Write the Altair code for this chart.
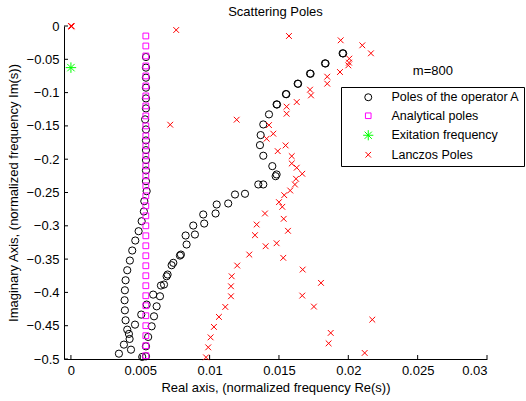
import altair as alt
import pandas as pd

S_CIRCLE = "Poles of the operator A"
S_SQUARE = "Analytical poles"
S_STAR = "Exitation frequency"
S_CROSS = "Lanczos Poles"
series_order = [S_CIRCLE, S_SQUARE, S_STAR, S_CROSS]

circle_re = [
    0.00541, 0.00541, 0.00541, 0.00541, 0.00541, 0.00541, 0.00535, 0.00541, 0.00541, 0.00541, 0.00541, 0.00541, 0.00541, 0.00546,
    0.00529, 0.00526, 0.00510, 0.00488, 0.00464, 0.00442, 0.00425, 0.00406, 0.00394, 0.00389, 0.00387, 0.00389, 0.00394, 0.00406,
    0.00418, 0.00423, 0.00382, 0.00433, 0.00346, 0.00462, 0.00507, 0.00514,
    0.00546, 0.00582, 0.00557, 0.00541, 0.00541, 0.00599, 0.00618, 0.00642, 0.00593, 0.00649, 0.00671,
    0.00690, 0.00697, 0.00726, 0.00738, 0.00786, 0.00793, 0.00834, 0.00827, 0.00894, 0.00882, 0.00961, 0.00954, 0.01043, 0.01051,
    0.01134, 0.01183, 0.01255, 0.01351, 0.01387, 0.01476, 0.01483, 0.01452, 0.01387, 0.01363, 0.01368, 0.01387, 0.01428, 0.01483,
    0.01550, 0.01635, 0.01724, 0.01832, 0.01959,
    0.01963, 0.01836, 0.01728, 0.01638, 0.01553, 0.01486,
]
circle_im = [
    -0.0466, -0.0625, -0.0776, -0.0926, -0.1087, -0.1237, -0.1402, -0.1553, -0.1718, -0.1864, -0.2014, -0.2169, -0.2330, -0.2480,
    -0.2630, -0.2785, -0.2931, -0.3081, -0.3221, -0.3371, -0.3522, -0.3667, -0.3818, -0.3968, -0.4118, -0.4269, -0.4419, -0.4559,
    -0.4623, -0.4699, -0.4784, -0.4860, -0.4920, -0.4484, -0.4333, -0.4969,
    -0.4183, -0.4509, -0.4669, -0.4810, -0.4960, -0.4359, -0.4209, -0.4058, -0.4033, -0.3897, -0.3882,
    -0.3758, -0.3732, -0.3592, -0.3556, -0.3447, -0.3432, -0.3281, -0.3146, -0.3131, -0.2996, -0.2966, -0.2830, -0.2815, -0.2680,
    -0.2665, -0.2530, -0.2519, -0.2379, -0.2379, -0.2255, -0.2229, -0.2104, -0.1948, -0.1789, -0.1638, -0.1478, -0.1327, -0.1177,
    -0.1022, -0.0866, -0.0715, -0.0561, -0.0410,
    -0.0412, -0.0563, -0.0717, -0.0868, -0.1024, -0.1179,
]

square_re = [0.0054] * 33
square_im = [
    -0.015, -0.030, -0.045, -0.060, -0.075, -0.090, -0.105, -0.120, -0.135, -0.150, -0.165,
    -0.180, -0.195, -0.210, -0.225, -0.240, -0.255, -0.270, -0.285, -0.300, -0.315, -0.330,
    -0.345, -0.360, -0.375, -0.390, -0.405, -0.420, -0.435, -0.450, -0.465, -0.480, -0.495,
]

star_re = [0.0]
star_im = [-0.0625]

cross_re = [
    0.0, 0.00003, 0.00006, 0.00759, 0.00716, 0.01195, 0.01572, 0.01945, 0.02101, 0.02163, 0.02007, 0.02005, 0.02000, 0.01940,
    0.01848, 0.01848, 0.01724, 0.01731, 0.01628, 0.01555, 0.01555, 0.01428, 0.01459, 0.01411, 0.01548, 0.01491,
    0.01592, 0.01592, 0.01628, 0.01668, 0.01623, 0.01615, 0.01581, 0.01538, 0.01500, 0.01524, 0.01399, 0.01339,
    0.01534, 0.01565, 0.01327, 0.01404, 0.01483, 0.01286, 0.01531, 0.01199, 0.01159, 0.01154, 0.01154, 0.01671,
    0.01803, 0.01668, 0.01752, 0.02173, 0.01873, 0.01858, 0.02118, 0.01113, 0.01067, 0.01031, 0.01007, 0.00990, 0.00974,
]
cross_im = [
    0.0, -0.0008, -0.0004, -0.0060, -0.1482, -0.1407, -0.0150, -0.0215, -0.0290, -0.0410, -0.0490, -0.0550, -0.0591, -0.0691,
    -0.0761, -0.0866, -0.0956, -0.1042, -0.1142, -0.1211, -0.1317, -0.1488, -0.1617, -0.1692, -0.1793, -0.1879,
    -0.1954, -0.2064, -0.2128, -0.2219, -0.2294, -0.2380, -0.2470, -0.2540, -0.2645, -0.2715, -0.2815, -0.2981,
    -0.2895, -0.3075, -0.3141, -0.3307, -0.3262, -0.3432, -0.3481, -0.3597, -0.3758, -0.3908, -0.4058, -0.3657,
    -0.3857, -0.4048, -0.4213, -0.4409, -0.4608, -0.4765, -0.4909, -0.4218, -0.4368, -0.4518, -0.4675, -0.4825, -0.4975,
]

x_ticks = [0, 0.005, 0.01, 0.015, 0.02, 0.025, 0.03]
y_ticks = [0, -0.05, -0.1, -0.15, -0.2, -0.25, -0.3, -0.35, -0.4, -0.45, -0.5]

annot_text = ["m=800"]
annot_re = [0.0261]
annot_im = [-0.0676]

FONT = "Liberation Sans"
W, H = 423, 333

frames = []
for name, xs_, ys_ in [(S_CIRCLE, circle_re, circle_im), (S_SQUARE, square_re, square_im),
                       (S_STAR, star_re, star_im), (S_CROSS, cross_re, cross_im)]:
    frames.append(pd.DataFrame({"re": xs_, "im": ys_, "series": name}))
df = pd.concat(frames, ignore_index=True)

xscale = alt.Scale(domain=[-0.0005, 0.03], nice=False, zero=False)
yscale = alt.Scale(domain=[-0.5, 0], nice=False, zero=False)
xaxis = alt.Axis(values=x_ticks, format="~g", title="Real axis, (normalized frequency Re(s))",
                 labelPadding=5, titlePadding=4)
yaxis = alt.Axis(values=y_ticks, format="~g", title="Imaginary Axis, (normalized frequency Im(s))",
                 labelPadding=5, titlePadding=6)

shape_circle = "circle"
shape_square = "M-0.8,-0.8L0.8,-0.8L0.8,0.8L-0.8,0.8Z"
shape_star = "M-1.45,0L1.45,0M0,-1.45L0,1.45M-1.03,-1.03L1.03,1.03M-1.03,1.03L1.03,-1.03"
shape_cross = "M-0.8,-0.8L0.8,0.8M-0.8,0.8L0.8,-0.8"

points = alt.Chart(df).mark_point(filled=False, size=52, strokeWidth=1, opacity=1).encode(
    x=alt.X("re:Q", scale=xscale, axis=xaxis),
    y=alt.Y("im:Q", scale=yscale, axis=yaxis),
    color=alt.Color("series:N",
                    scale=alt.Scale(domain=series_order, range=["#000000", "#ff00ff", "#00ff00", "#ff0000"]),
                    legend=alt.Legend(title=None)),
    shape=alt.Shape("series:N",
                    scale=alt.Scale(domain=series_order, range=[shape_circle, shape_square, shape_star, shape_cross]),
                    legend=alt.Legend(title=None)),
)

xt = alt.Chart(pd.DataFrame({"re": x_ticks})).mark_rule(color="black", strokeWidth=1).encode(
    x=alt.X("re:Q", scale=xscale, axis=xaxis), y=alt.value(H), y2=alt.value(H - 4))
yt = alt.Chart(pd.DataFrame({"im": y_ticks})).mark_rule(color="black", strokeWidth=1).encode(
    y=alt.Y("im:Q", scale=yscale, axis=yaxis), x=alt.value(0), x2=alt.value(4))

annot = alt.Chart(pd.DataFrame({"re": annot_re, "im": annot_im, "t": annot_text})).mark_text(
    font=FONT, fontSize=13, color="black", align="center", baseline="middle").encode(
    x=alt.X("re:Q", scale=xscale, axis=xaxis), y=alt.Y("im:Q", scale=yscale, axis=yaxis), text="t:N")

chart = alt.layer(points, xt, yt, annot).properties(
    width=W, height=H,
    title=alt.TitleParams("Scattering Poles", font=FONT, fontSize=13, fontWeight="normal",
                          color="black", anchor="middle", offset=1),
    autosize=alt.AutoSizeParams(type="none"),
    padding={"left": 64, "top": 26, "right": 39, "bottom": 42},
).configure_view(stroke=None).configure_axis(
    grid=False, ticks=False, domainColor="black", domainWidth=1,
    labelColor="black", labelFont=FONT, labelFontSize=13,
    titleColor="black", titleFont=FONT, titleFontSize=13, titleFontWeight="normal",
).configure_legend(
    orient="none", legendX=277, legendY=61, strokeColor="black", fillColor="white",
    padding=4, labelFont=FONT, labelFontSize=12.5, labelColor="black", labelLimit=300,
    symbolSize=49, symbolStrokeWidth=1, symbolOffset=17, labelOffset=17, rowPadding=5.5,
)

chart.save("out.html", embed_options={"renderer": "svg", "actions": False})
